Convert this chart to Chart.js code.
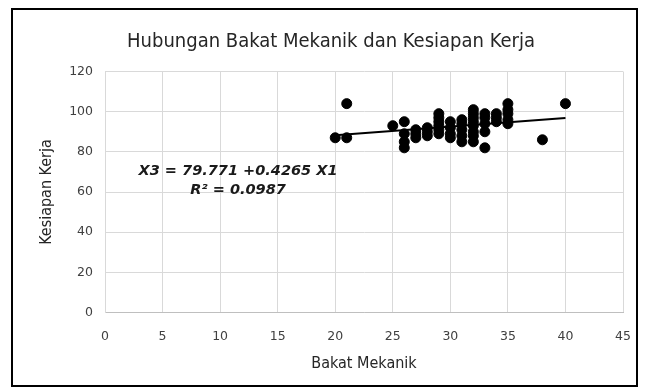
<!DOCTYPE html>
<html><head><meta charset="utf-8">
<script src="https://cdn.jsdelivr.net/npm/chart.js@4/dist/chart.umd.min.js"></script>
<style>html,body{margin:0;padding:0;background:#fff}canvas{display:block}</style>
</head><body>
<canvas id="c" width="648" height="392"></canvas>
<script>
// Bakat Mekanik (X1) values
const bakatMekanik = [
  20, 21, 21, 25,
  26, 26, 26, 26,
  27, 27, 27,
  28, 28, 28,
  29, 29, 29, 29, 29, 29,
  30, 30, 30, 30,
  31, 31, 31, 31, 31,
  32, 32, 32, 32, 32, 32, 32, 32,
  33, 33, 33, 33, 33,
  34, 34, 34,
  35, 35, 35, 35, 35,
  38, 40
];
// Kesiapan Kerja (X3) values
const kesiapanKerja = [
  87, 104, 87, 93,
  95, 89, 85, 82,
  91, 89, 87,
  92, 90, 88,
  99, 97, 95, 93, 91, 89,
  95, 92, 89, 87,
  96, 94, 91, 88, 85,
  101, 99, 97, 95, 93, 90, 88, 85,
  99, 97, 94, 90, 82,
  99, 97, 95,
  104, 101, 99, 96, 94,
  86, 104
];
// Linear trendline end points
const trendX = [20, 40];
const trendY = [88.3, 96.8];

const chartTitle = 'Hubungan Bakat Mekanik dan Kesiapan Kerja';
const xTitle = 'Bakat Mekanik';
const yTitle = 'Kesiapan Kerja';
const equationLines = ['X3 = 79.771 +0.4265 X1', 'R² = 0.0987'];
const xTickRange = [0, 45, 5];
const yTickRange = [0, 120, 20];

const points = bakatMekanik.map((x, i) => ({ x: x, y: kesiapanKerja[i] }));
const trend = trendX.map((x, i) => ({ x: x, y: trendY[i] }));

const FONT = "'DejaVu Sans', Verdana, sans-serif";
const CFONT = "'DejaVu Sans Condensed', 'DejaVu Sans', sans-serif";

const decor = {
  id: 'decor',
  afterDraw(chart) {
    const ctx = chart.ctx;
    ctx.save();
    // outer border
    ctx.strokeStyle = '#000';
    ctx.lineWidth = 2;
    ctx.strokeRect(12, 9, 625, 377);
    // title
    ctx.fillStyle = '#262626';
    ctx.font = '20px ' + CFONT;
    ctx.textAlign = 'center';
    ctx.textBaseline = 'middle';
    ctx.fillText(chartTitle, 331, 42);
    // equation
    ctx.fillStyle = '#1a1a1a';
    ctx.font = 'italic bold 14.5px ' + FONT;
    ctx.fillText(equationLines[0], 238, 171);
    ctx.fillText(equationLines[1], 238, 190);
    ctx.restore();
  }
};

new Chart(document.getElementById('c'), {
  type: 'scatter',
  data: {
    datasets: [
      {
        type: 'line',
        data: trend,
        borderColor: '#000',
        borderWidth: 2,
        pointRadius: 0,
        fill: false,
        showLine: true,
        order: 0
      },
      {
        data: points,
        backgroundColor: '#000',
        borderColor: '#000',
        pointRadius: 5,
        pointHoverRadius: 5,
        order: 1
      }
    ]
  },
  options: {
    responsive: false,
    animation: false,
    devicePixelRatio: 1,
    layout: { padding: { left: 20, right: 25, top: 71.5, bottom: 0 } },
    plugins: {
      legend: { display: false },
      tooltip: { enabled: false },
      title: { display: false }
    },
    scales: {
      x: {
        type: 'linear',
        min: xTickRange[0], max: xTickRange[1],
        ticks: { stepSize: xTickRange[2], color: '#404040', font: { family: FONT, size: 12.5 }, padding: 16.5 },
        grid: { color: '#d9d9d9', drawTicks: false },
        border: { color: '#bfbfbf' },
        title: { display: true, text: xTitle, color: '#262626', font: { family: CFONT, size: 16 }, padding: { top: 0, bottom: 18.4 } },
        afterFit(s) { s.height = 79.5; }
      },
      y: {
        type: 'linear',
        min: yTickRange[0], max: yTickRange[1],
        ticks: { stepSize: yTickRange[2], color: '#404040', font: { family: FONT, size: 12.5 }, padding: 12 },
        grid: { color: '#d9d9d9', drawTicks: false },
        border: { color: '#d9d9d9' },
        title: { display: true, text: yTitle, color: '#262626', font: { family: CFONT, size: 16 }, padding: { top: 17.5, bottom: 0 } },
        afterFit(s) { s.width = 85; }
      }
    }
  },
  plugins: [decor]
});
</script>
</body></html>
